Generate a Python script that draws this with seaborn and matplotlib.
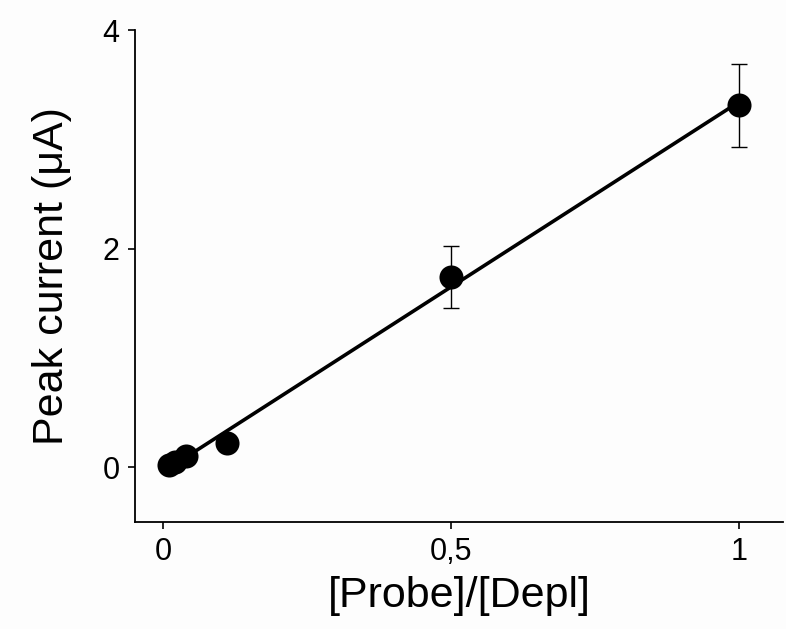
import matplotlib
matplotlib.use("Agg")
import matplotlib.pyplot as plt
import seaborn as sns
import numpy as np
import pandas as pd

ratio = [0.01, 0.02, 0.04, 0.11, 0.5, 1.0]
current = [0.02, 0.05, 0.10, 0.22, 1.74, 3.31]
err = [0.0, 0.0, 0.0, 0.0, 0.28, 0.38]
xticks = [0, 0.5, 1]
xticklabels = ["0", "0,5", "1"]
yticks = [0, 2, 4]
yticklabels = ["0", "2", "4"]

df = pd.DataFrame({"ratio": ratio, "current": current, "err": err})

sns.set_style("ticks")
plt.rcParams["font.family"] = ["Liberation Sans", "DejaVu Sans"]

fig = plt.figure(figsize=(7.86, 6.29), dpi=100)
fig.patch.set_facecolor("#fdfdfd")
ax = fig.add_axes([135/786, 1-522/629, (783-135)/786, (522-30)/629])
ax.set_facecolor("#fdfdfd")

sns.regplot(data=df, x="ratio", y="current", ci=None, scatter=False, ax=ax,
            line_kws=dict(color="black", lw=2.6))
eb = df[df["err"] > 0]
ax.errorbar(eb["ratio"], eb["current"], yerr=eb["err"], fmt="none",
            ecolor="black", elinewidth=1.0, capsize=5.5, capthick=1.0, zorder=3)
sns.scatterplot(data=df, x="ratio", y="current", ax=ax, s=300, color="black",
                edgecolor="black", linewidth=0, zorder=4)

ax.set_xlim(-0.049, 1.076)
ax.set_ylim(-0.5, 4)
ax.set_xticks(xticks)
ax.set_xticklabels(xticklabels)
ax.set_yticks(yticks)
ax.set_yticklabels(yticklabels)
ax.tick_params(axis="both", labelsize=22, length=5, width=1.2, color="black",
               labelcolor="black", pad=6)
for s in ["left", "bottom"]:
    ax.spines[s].set_linewidth(1.3)
    ax.spines[s].set_color("black")
sns.despine(ax=ax)
ax.set_xlabel("[Probe]/[Depl]", fontsize=31, labelpad=6, color="black")
ax.set_ylabel("Peak current (μA)", fontsize=31, labelpad=22, color="black")

fig.savefig("out.png", dpi=100, facecolor=fig.get_facecolor())
